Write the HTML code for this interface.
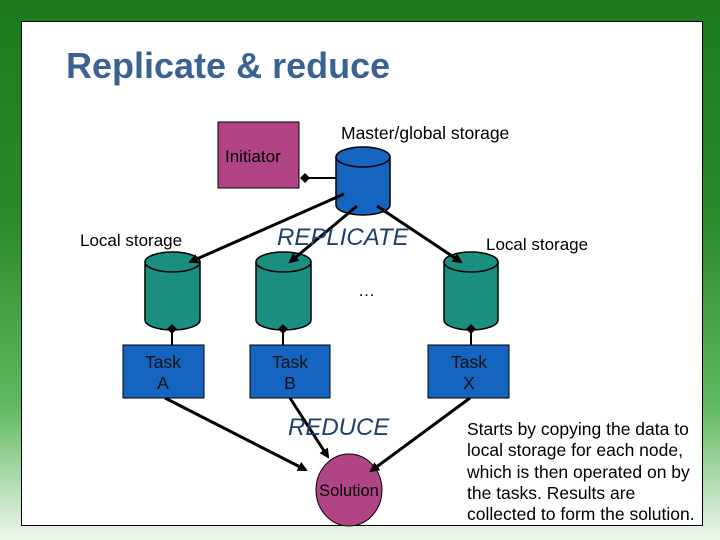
<!DOCTYPE html>
<html><head><style>
body{margin:0;width:720px;height:540px;overflow:hidden;font-family:"Liberation Sans",sans-serif;}
#bg{position:absolute;left:0;top:0;width:720px;height:540px;background:linear-gradient(180deg,#1c7a1c 0%,#2a8a2a 40%,#5fb85f 75%,#eef7ee 100%);}
#panel{position:absolute;left:21px;top:21px;width:680px;height:503px;background:#fff;border:1px solid #000;}
</style></head><body>
<div id="bg"></div>
<div id="panel"></div>
<svg width="720" height="540" style="position:absolute;left:0;top:0" font-family="Liberation Sans, sans-serif">
<defs>
<marker id="ar" markerWidth="10" markerHeight="10" refX="8" refY="5" orient="auto" markerUnits="userSpaceOnUse"><path d="M0,0 L10,5 L0,10 z" fill="#000"/></marker>
</defs>
<text x="66" y="78" font-size="36" font-weight="bold" fill="#3a6394">Replicate &amp; reduce</text>
<rect x="218" y="122" width="81" height="66" fill="#b04484" stroke="#000"/>
<text x="225" y="162" font-size="17">Initiator</text>
<text x="341" y="139" font-size="17.5">Master/global storage</text>
<line x1="305" y1="178" x2="337" y2="178" stroke="#000" stroke-width="2"/>
<path d="M300,178 L305,173 L310,178 L305,183z" fill="#000"/>
<g stroke="#000" stroke-width="1.5">
<path d="M336,157 L336,205 A27,10 0 0 0 390,205 L390,157" fill="#1565c0"/>
<ellipse cx="363" cy="157" rx="27" ry="10" fill="#1565c0"/>
<path d="M145,262 L145,320 A27.5,10 0 0 0 200,320 L200,262" fill="#1a8f80"/>
<ellipse cx="172.5" cy="262" rx="27.5" ry="10" fill="#1a8f80"/>
<path d="M256,262 L256,320 A27.5,10 0 0 0 311,320 L311,262" fill="#1a8f80"/>
<ellipse cx="283.5" cy="262" rx="27.5" ry="10" fill="#1a8f80"/>
<path d="M444,262 L444,320 A27,10 0 0 0 498,320 L498,262" fill="#1a8f80"/>
<ellipse cx="471" cy="262" rx="27" ry="10" fill="#1a8f80"/>
</g>
<ellipse cx="349" cy="490" rx="33" ry="36" fill="#b04484" stroke="#000"/>
<g stroke="#000" stroke-width="3" marker-end="url(#ar)">
<line x1="344" y1="194" x2="190" y2="262"/>
<line x1="357" y1="206" x2="290" y2="262"/>
<line x1="377" y1="206" x2="461" y2="262"/>
<line x1="165" y1="398" x2="306" y2="470"/>
<line x1="290" y1="398" x2="328" y2="457"/>
<line x1="470" y1="398" x2="371" y2="471"/>
</g>
<text x="277" y="245" font-size="24" font-style="italic" fill="#1f3f6e">REPLICATE</text>
<text x="80" y="246" font-size="17">Local storage</text>
<text x="486" y="250" font-size="17">Local storage</text>
<text x="358" y="296" font-size="17">…</text>
<g stroke="#000" stroke-width="2">
<line x1="172" y1="330" x2="172" y2="345"/><line x1="283" y1="330" x2="283" y2="345"/><line x1="471" y1="330" x2="471" y2="345"/>
</g>
<g fill="#000">
<path d="M172,324 L177,329 L172,334 L167,329z"/><path d="M283,324 L288,329 L283,334 L278,329z"/><path d="M471,324 L476,329 L471,334 L466,329z"/>
</g>
<g fill="#1565c0" stroke="#000">
<rect x="123" y="345" width="81" height="53"/><rect x="250" y="345" width="80" height="53"/><rect x="428" y="345" width="81" height="53"/>
</g>
<g font-size="17.5" text-anchor="middle" fill="#111">
<text x="163" y="368">Task</text><text x="163" y="389">A</text>
<text x="290" y="368">Task</text><text x="290" y="389">B</text>
<text x="469" y="368">Task</text><text x="469" y="389">X</text>
</g>
<text x="288" y="435" font-size="24" font-style="italic" fill="#1f3f6e">REDUCE</text>
<text x="349" y="496" font-size="16.5" text-anchor="middle">Solution</text>
<g font-size="17.5" fill="#000">
<text x="467" y="435">Starts by copying the data to</text>
<text x="467" y="456">local storage for each node,</text>
<text x="467" y="478">which is then operated on by</text>
<text x="467" y="499">the tasks. Results are</text>
<text x="467" y="520">collected to form the solution.</text>
</g>
</svg>
</body></html>
